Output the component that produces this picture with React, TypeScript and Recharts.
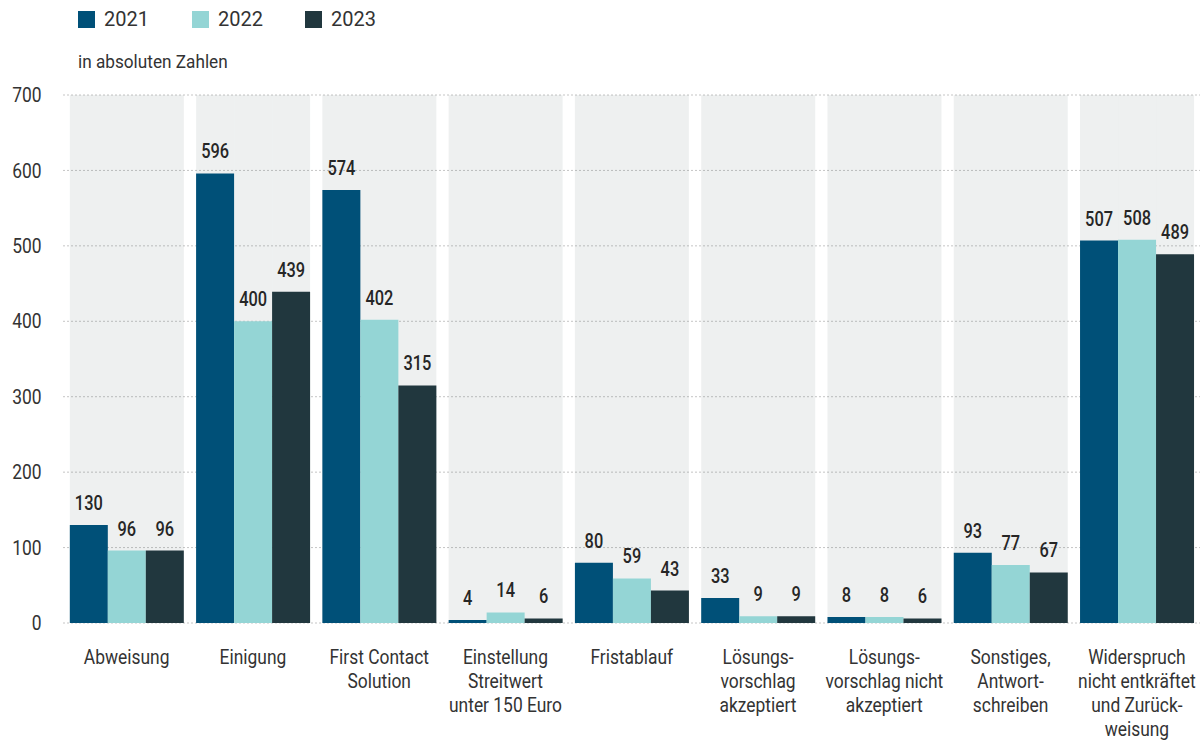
import React from 'react';
import { BarChart, Bar, XAxis, YAxis, CartesianGrid, LabelList } from 'recharts';

const categories = [
  'Abweisung',
  'Einigung',
  'First Contact Solution',
  'Einstellung Streitwert unter 150 Euro',
  'Fristablauf',
  'Lösungsvorschlag akzeptiert',
  'Lösungsvorschlag nicht akzeptiert',
  'Sonstiges, Antwortschreiben',
  'Widerspruch nicht entkräftet und Zurückweisung',
];

const categoryLines: string[][] = [
  ['Abweisung'],
  ['Einigung'],
  ['First Contact', 'Solution'],
  ['Einstellung', 'Streitwert', 'unter 150 Euro'],
  ['Fristablauf'],
  ['Lösungs-', 'vorschlag', 'akzeptiert'],
  ['Lösungs-', 'vorschlag nicht', 'akzeptiert'],
  ['Sonstiges,', 'Antwort-', 'schreiben'],
  ['Widerspruch', 'nicht entkräftet', 'und Zurück-', 'weisung'],
];

const values2021 = [130, 596, 574, 4, 80, 33, 8, 93, 507];
const values2022 = [96, 400, 402, 14, 59, 9, 8, 77, 508];
const values2023 = [96, 439, 315, 6, 43, 9, 6, 67, 489];

const yTicks = [0, 100, 200, 300, 400, 500, 600, 700];

const series = [
  { key: 'y2021', name: '2021', color: '#005078' },
  { key: 'y2022', name: '2022', color: '#94d5d5' },
  { key: 'y2023', name: '2023', color: '#21373e' },
];

const data = categories.map((c, i) => ({
  name: c,
  y2021: values2021[i],
  y2022: values2022[i],
  y2023: values2023[i],
}));

const FONT = "Roboto, 'Noto Sans', sans-serif";
const TEXT = '#333333';
const SQUEEZE = 0.87;

const XTick = (props: any) => {
  const { x, y, payload } = props;
  const idx = categories.indexOf(payload.value);
  const lines = idx >= 0 ? categoryLines[idx] : [String(payload.value)];
  return (
    <g transform={`translate(${x},${y}) scale(${SQUEEZE},1)`}>
      {lines.map((l, i) => (
        <text
          key={i}
          x={0}
          y={41 + i * 24}
          textAnchor="middle"
          fontFamily={FONT}
          fontSize={20}
          fill={TEXT}
        >
          {l}
        </text>
      ))}
    </g>
  );
};

const YTick = (props: any) => {
  const { x, y, payload } = props;
  return (
    <g transform={`translate(${x},${y}) scale(${SQUEEZE},1)`}>
      <text x={0} y={0} dy="0.36em" textAnchor="end" fontFamily={FONT} fontSize={20} fill={TEXT}>
        {payload.value}
      </text>
    </g>
  );
};

const ValueLabel = (props: any) => {
  const { x, y, width, value } = props;
  const cx = Number(x) + Number(width) / 2;
  const cy = Number(y) - 15;
  return (
    <g transform={`translate(${cx},${cy}) scale(0.78,1)`}>
      <text x={0} y={0} textAnchor="middle" fontFamily={FONT} fontSize={21} fontWeight={500} fill="#262626">
        {value}
      </text>
    </g>
  );
};

const LegendBlock = () => (
  <div style={{ position: 'absolute', left: 0, top: 0, width: 600, height: 90, pointerEvents: 'none' }}>
    {series.map((s, i) => (
      <div
        key={s.key}
        style={{
          position: 'absolute',
          left: [78, 192, 305][i],
          top: 11,
          display: 'flex',
          alignItems: 'center',
        }}
      >
        <div style={{ width: 17, height: 17, background: s.color }} />
        <span
          style={{
            marginLeft: 9,
            fontFamily: FONT,
            fontSize: 20,
            color: TEXT,
            lineHeight: '17px',
          }}
        >
          {s.name}
        </span>
      </div>
    ))}
    <div
      style={{
        position: 'absolute',
        left: 78,
        top: 51,
        fontFamily: FONT,
        fontSize: 18,
        lineHeight: '22px',
        color: TEXT,
        whiteSpace: 'nowrap',
        transform: `scale(0.955,1)`,
        transformOrigin: 'left center',
      }}
    >
      in absoluten Zahlen
    </div>
  </div>
);

export default function App() {
  return (
    <div style={{ position: 'absolute', left: 0, top: 0, width: 1203, height: 740, background: '#fff' }}>
      <BarChart
        width={1203}
        height={740}
        data={data}
        margin={{ top: 95, right: 3, bottom: 0, left: 0 }}
        barGap={0}
        barCategoryGap="5%"
      >
        <CartesianGrid vertical={false} stroke="#8a8a8a" strokeDasharray="1 3" />
        <XAxis
          dataKey="name"
          axisLine={false}
          tickLine={false}
          tickSize={0}
          tickMargin={0}
          height={117}
          interval={0}
          tick={<XTick />}
        />
        <YAxis
          domain={[0, 700]}
          ticks={yTicks}
          axisLine={false}
          tickLine={false}
          tickSize={0}
          tickMargin={22}
          width={63.5}
          tick={<YTick />}
        />
        {series.map((s) => (
          <Bar
            key={s.key}
            dataKey={s.key}
            name={s.name}
            fill={s.color}
            isAnimationActive={false}
            background={{ fill: '#566b6b', fillOpacity: 0.1 }}
          >
            <LabelList dataKey={s.key} content={<ValueLabel />} />
          </Bar>
        ))}
      </BarChart>
      <LegendBlock />
    </div>
  );
}
